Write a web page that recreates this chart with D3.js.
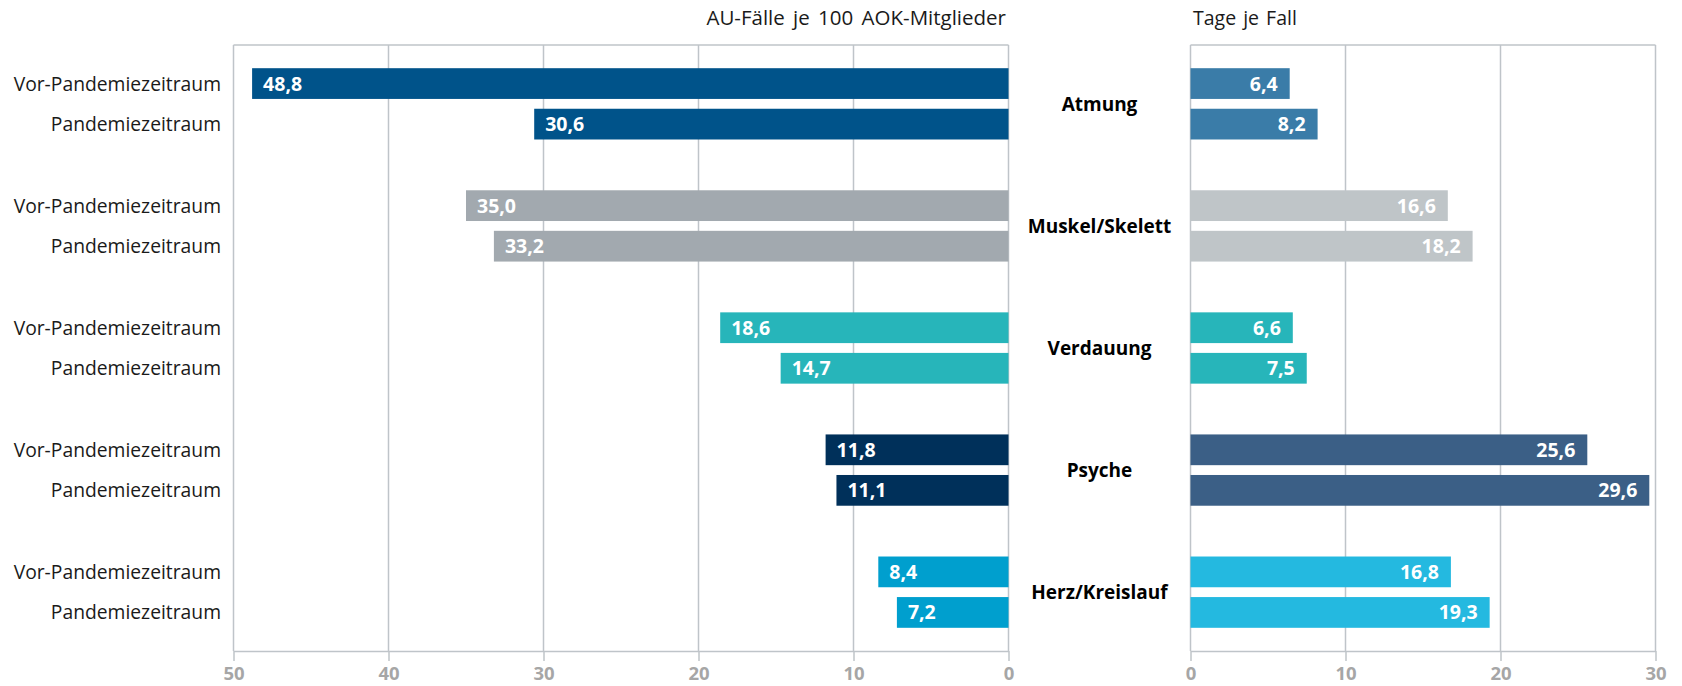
<!DOCTYPE html>
<html>
<head>
<meta charset="utf-8">
<script src="https://cdn.jsdelivr.net/npm/d3@7"></script>
<style>
	body { margin: 0; background: #fff; }
	svg { display: block; font-family: "Open Sans", "Noto Sans", sans-serif; }
</style>
</head>
<body>
<svg id="chart" width="1682" height="686"></svg>
<script>
// data
const categories = ['Atmung', 'Muskel/Skelett', 'Verdauung', 'Psyche', 'Herz/Kreislauf']
const periods = ['Vor-Pandemiezeitraum', 'Pandemiezeitraum']
const casesPre = [48.8, 35.0, 18.6, 11.8, 8.4]
const casesPandemic = [30.6, 33.2, 14.7, 11.1, 7.2]
const daysPre = [6.4, 16.6, 6.6, 25.6, 16.8]
const daysPandemic = [8.2, 18.2, 7.5, 29.6, 19.3]
const casesColors = ['#00538a', '#a2a9af', '#27b5ba', '#00305a', '#009fce']
const daysColors = ['#3a7ca8', '#bfc5c8', '#27b5ba', '#3b5f86', '#24b9e0']
const casesTicks = [50, 40, 30, 20, 10, 0]
const daysTicks = [0, 10, 20, 30]
const casesTitle = 'AU-Fälle je 100 AOK-Mitglieder'
const daysTitle = 'Tage je Fall'

const gridColor = '#bfc4c9'
const plotTop = 45, plotBottom = 651

const svg = d3.select('#chart')
const de = d3.formatLocale({ decimal: ',', thousands: '.', grouping: [3], currency: ['', '€'] })
const fmt = de.format('.1f')

const y = d3.scaleBand().domain(categories).range([plotTop, plotBottom])
	.paddingInner(0.416).paddingOuter(0.19)
const yInner = d3.scaleBand().domain(periods).range([0, y.bandwidth()]).paddingInner(0.242)

const xCases = d3.scaleLinear().domain([50, 0]).range([233.5, 1008.5])
const xDays = d3.scaleLinear().domain([0, 30]).range([1190.5, 1655.5])

const rows = categories.map((c, i) => ({
	cat: c,
	cases: [casesPre[i], casesPandemic[i]],
	days: [daysPre[i], daysPandemic[i]],
	i
}))

function drawPanel(x, ticks) {
	const g = svg.append('g')
	// vertical gridlines
	g.selectAll('line.grid').data(ticks).join('line')
		.attr('class', 'grid')
		.attr('x1', d => x(d)).attr('x2', d => x(d))
		.attr('y1', plotTop).attr('y2', plotBottom)
		.attr('stroke', gridColor).attr('stroke-width', 1.5)
	// top frame line
	const [a, b] = d3.extent(x.range())
	g.append('line')
		.attr('x1', a).attr('x2', b).attr('y1', plotTop).attr('y2', plotTop)
		.attr('stroke', gridColor).attr('stroke-width', 1.5)

	const axis = g.append('g')
		.attr('transform', `translate(0,${plotBottom})`)
		.call(d3.axisBottom(x).tickValues(ticks).tickSize(10).tickPadding(6).tickSizeOuter(0))
	axis.select('.domain').attr('stroke', gridColor).attr('stroke-width', 1.5)
	axis.selectAll('.tick line').attr('stroke', gridColor).attr('stroke-width', 1.5)
	axis.selectAll('.tick text')
		.attr('fill', '#a6a6a6')
		.attr('font-size', 18.5)
		.attr('font-weight', 700)
		.attr('font-family', '"Open Sans", sans-serif')
	return g
}

drawPanel(xCases, casesTicks)
drawPanel(xDays, daysTicks)

// bars
const groups = svg.selectAll('g.cat').data(rows).join('g')
	.attr('class', 'cat')
	.attr('transform', d => `translate(0,${y(d.cat)})`)

groups.each(function (d) {
	const g = d3.select(this)
	periods.forEach((p, j) => {
		const yy = yInner(p)
		const h = yInner.bandwidth()
		const vc = d.cases[j]
		g.append('rect')
			.attr('x', xCases(vc)).attr('y', yy)
			.attr('width', xCases(0) - xCases(vc)).attr('height', h)
			.attr('fill', casesColors[d.i])
		g.append('text')
			.attr('x', xCases(vc) + 11).attr('y', yy + h / 2)
			.attr('dy', '0.36em')
			.attr('fill', '#fff').attr('font-weight', 700).attr('font-size', 19.5)
			.text(fmt(vc))

		const vd = d.days[j]
		g.append('rect')
			.attr('x', xDays(0)).attr('y', yy)
			.attr('width', xDays(vd) - xDays(0)).attr('height', h)
			.attr('fill', daysColors[d.i])
		g.append('text')
			.attr('x', xDays(vd) - 12).attr('y', yy + h / 2)
			.attr('dy', '0.36em')
			.attr('text-anchor', 'end')
			.attr('fill', '#fff').attr('font-weight', 700).attr('font-size', 19.5)
			.text(fmt(vd))

		// row label
		g.append('text')
			.attr('x', 221).attr('y', yy + h / 2)
			.attr('dy', '0.36em')
			.attr('text-anchor', 'end')
			.attr('fill', '#1a1a1a').attr('font-size', 19.3)
			.text(p)
	})
	// category label between panels
	g.append('text')
		.attr('x', (xCases(0) + xDays(0)) / 2).attr('y', y.bandwidth() / 2)
		.attr('dy', '0.36em')
		.attr('text-anchor', 'middle')
		.attr('fill', '#000').attr('font-weight', 700).attr('font-size', 19)
		.text(d.cat)
})

// panel titles
svg.append('text')
	.attr('x', 1006).attr('y', 18).attr('dy', '0.36em')
	.attr('text-anchor', 'end').attr('font-size', 20.5).attr('word-spacing', 3).attr('fill', '#1a1a1a')
	.text(casesTitle)
svg.append('text')
	.attr('x', 1193).attr('y', 18).attr('dy', '0.36em')
	.attr('font-size', 19.5).attr('word-spacing', 2).attr('fill', '#1a1a1a')
	.text(daysTitle)
</script>
</body>
</html>
